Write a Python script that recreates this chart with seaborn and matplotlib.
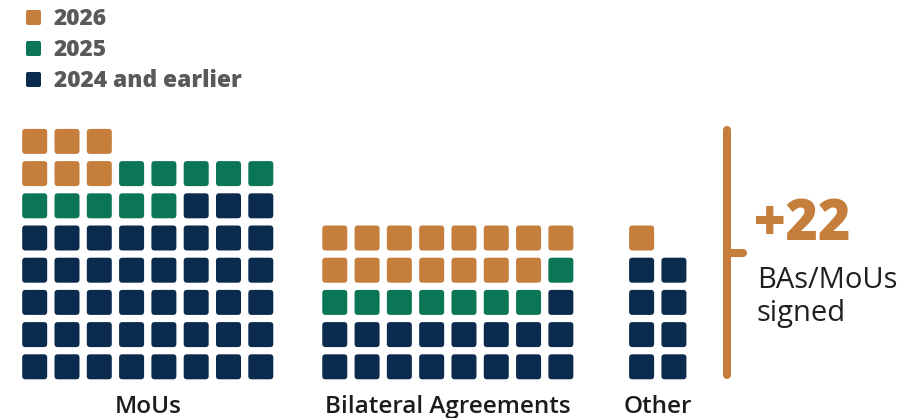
import numpy as np
import pandas as pd
import matplotlib
matplotlib.use("Agg")
import matplotlib.pyplot as plt
import seaborn as sns
from matplotlib.patches import BoxStyle
from matplotlib.lines import Line2D
from matplotlib.transforms import blended_transform_factory

# ---------------- data ----------------
groups = ["MoUs", "Bilateral Agreements", "Other"]
periods = ["2026", "2025", "2024 and earlier"]
count_2026 = [6, 15, 1]
count_2025 = [10, 8, 0]
count_2024_and_earlier = [43, 17, 8]
group_columns = [8, 8, 2]
headline = "+22"
headline_caption = ["BAs/MoUs", "signed"]

colors = {"2026": "#C67E3D", "2025": "#0B7655", "2024 and earlier": "#0A2B4D"}

# ---------------- layout ----------------
W, H = 915, 418
PX_X, PX_Y = 32.3, 32.2          # cell pitch in pixels
X0, Y0 = 34.7, 366.8             # pixel centre of first column / bottom row
group_offsets = [0.0, 9.29, 18.79]  # in cell units

# build the cells: reading order from top-left, newest first, top row holds remainder
rows_out = []
for g, n26, n25, n24, ncol, off in zip(groups, count_2026, count_2025,
                                       count_2024_and_earlier, group_columns, group_offsets):
    seq = ["2026"] * n26 + ["2025"] * n25 + ["2024 and earlier"] * n24
    n = len(seq)
    nrows = int(np.ceil(n / ncol))
    rem = n - (nrows - 1) * ncol
    for k, p in enumerate(seq):
        if k < rem:
            r, c = nrows - 1, k
        else:
            j = k - rem
            r, c = nrows - 2 - j // ncol, j % ncol
        rows_out.append({"group": g, "period": p, "x": off + c, "y": r})
df = pd.DataFrame(rows_out)

sns.set_theme(style="white")
plt.rcParams["font.family"] = ["Open Sans", "DejaVu Sans"]

fig = plt.figure(figsize=(W / 100, H / 100), dpi=100)
ax = fig.add_axes([0, 0, 1, 1])
ax.set_xlim(-X0 / PX_X, (W - X0) / PX_X)
ax.set_ylim((Y0 - H) / PX_Y, Y0 / PX_Y)
ax.axis("off")

rounded = BoxStyle("Round", pad=0.0, rounding_size=0.13)(-0.5, -0.5, 1.0, 1.0, 1.0)

sq_pt = 25 * 72 / 100
sns.scatterplot(data=df, x="x", y="y", hue="period", hue_order=periods,
                palette=colors, marker=rounded, s=sq_pt ** 2, linewidth=0,
                edgecolor="none", ax=ax, legend=False)

def fx(px):
    return px / W

def fy(py):
    return 1 - py / H

# legend
handles = [Line2D([], [], marker=rounded, ls="", markersize=15 * 0.72,
                  markerfacecolor=colors[p], markeredgecolor="none") for p in periods]
leg = fig.legend(handles, periods, loc="upper left", bbox_to_anchor=(fx(18), fy(2.5)),
                 frameon=False, fontsize=16.4, handlelength=0.93, handletextpad=0.45,
                 labelspacing=0.3, borderpad=0.2, borderaxespad=0)
for t in leg.get_texts():
    t.set_color("#595959")
    t.set_fontweight("heavy")

# category labels
tr = blended_transform_factory(ax.transData, fig.transFigure)
for g, ncol, off in zip(groups, group_columns, group_offsets):
    ax.text(off + (ncol - 1) / 2, fy(413), g, transform=tr, ha="center",
            va="baseline", fontsize=17.5, color="#1c1c1c", fontweight="semibold")

# bracket
orange = colors["2026"]
fig.add_artist(Line2D([fx(727), fx(727)], [fy(375), fy(130)], color=orange,
                      lw=5.8, solid_capstyle="round", transform=fig.transFigure))
fig.add_artist(Line2D([fx(727), fx(743)], [fy(253), fy(253)], color=orange,
                      lw=5.8, solid_capstyle="round", transform=fig.transFigure))

fig.text(fx(754), fy(240), headline, fontsize=40, fontweight="heavy", color=orange,
         ha="left", va="baseline")
fig.text(fx(757), fy(288), headline_caption[0], fontsize=21, color="#231f20",
         ha="left", va="baseline")
fig.text(fx(757), fy(321), headline_caption[1], fontsize=21, color="#231f20",
         ha="left", va="baseline")

fig.savefig("out.png", dpi=100)
